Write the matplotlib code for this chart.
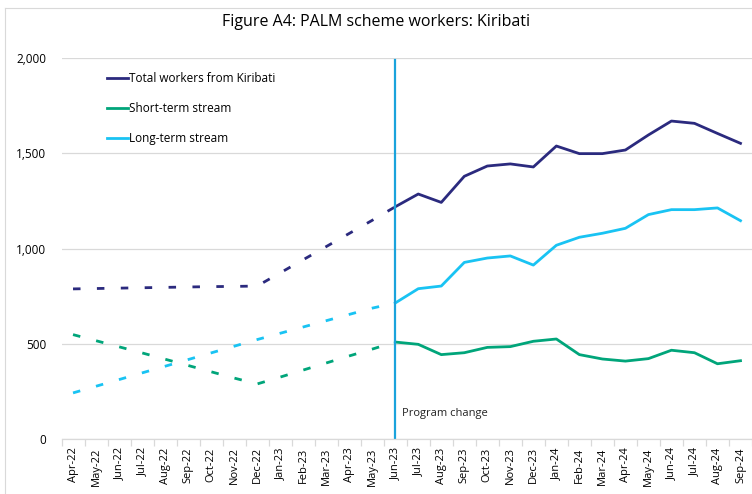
import matplotlib
matplotlib.use("Agg")
import matplotlib.pyplot as plt
from matplotlib.lines import Line2D

plt.rcParams['font.family'] = ['Open Sans', 'DejaVu Sans']

months = ["Apr-22", "May-22", "Jun-22", "Jul-22", "Aug-22", "Sep-22", "Oct-22", "Nov-22",
          "Dec-22", "Jan-23", "Feb-23", "Mar-23", "Apr-23", "May-23", "Jun-23", "Jul-23",
          "Aug-23", "Sep-23", "Oct-23", "Nov-23", "Dec-23", "Jan-24", "Feb-24", "Mar-24",
          "Apr-24", "May-24", "Jun-24", "Jul-24", "Aug-24", "Sep-24"]

# Apr-22 .. Jun-23 (dashed, before program change)
total_pre = [788, 790, 792, 794, 796, 798, 800, 801, 803, 872, 941, 1010, 1079, 1148, 1219]
short_pre = [548, 516, 484, 452, 419, 386, 353, 320, 289, 325, 362, 399, 436, 472, 509]
long_pre = [242, 277, 312, 347, 382, 417, 452, 487, 522, 555, 588, 621, 654, 687, 714]

# Jun-23 .. Sep-24 (solid)
total_post = [1219, 1286, 1242, 1379, 1433, 1444, 1428, 1538, 1498, 1498, 1517, 1596,
              1669, 1657, 1604, 1552]
short_post = [509, 497, 443, 453, 481, 485, 513, 525, 443, 420, 409, 422, 466, 453, 395, 411]
long_post = [714, 789, 803, 927, 950, 961, 913, 1017, 1059, 1080, 1106, 1178, 1204, 1204,
             1213, 1146]

c_total = "#2B2A7E"
c_short = "#00A57A"
c_long = "#19C3F3"
c_vline = "#1AA3DC"

fig = plt.figure(figsize=(7.52, 4.94), dpi=100)
ax = fig.add_axes([0.0818, 0.1113, 0.9182, 0.7713])

x_pre = list(range(len(total_pre)))
x_post = list(range(len(total_pre) - 1, len(months)))
dash = (2.7, 5.9)

for pre, post, c in [(total_pre, total_post, c_total),
                     (short_pre, short_post, c_short),
                     (long_pre, long_post, c_long)]:
    ax.plot(x_pre, pre, color=c, lw=2.0, dashes=dash)
    ax.plot(x_post, post, color=c, lw=2.0)

ax.axvline(14, ymin=0, ymax=0.995, color=c_vline, lw=1.6)
ax.text(14.3, 136, "Program change", fontsize=8, color="#222222", va="center")

ax.set_xlim(-0.5, len(months) - 0.5)
ax.set_ylim(0, 2000)
ax.set_yticks([0, 500, 1000, 1500, 2000])
ax.set_yticklabels(["0", "500", "1,000", "1,500", "2,000"])
ax.yaxis.grid(True, color="#D9D9D9", lw=0.9)
ax.set_axisbelow(True)

ax.set_xticks(range(len(months)))
ax.set_xticklabels(months, rotation=90, fontsize=8)
ax.set_xticks([i - 0.5 for i in range(len(months) + 1)], minor=True)
ax.tick_params(axis='x', which='major', length=0, pad=6)
ax.tick_params(axis='x', which='minor', length=5, color="#D9D9D9", width=0.9)
ax.tick_params(axis='y', length=0, labelsize=8.5, pad=11)

for s in ["top", "right", "left"]:
    ax.spines[s].set_visible(False)
ax.spines["bottom"].set_color("#D9D9D9")
ax.spines["bottom"].set_linewidth(0.9)

handles = [Line2D([], [], color=c_total, lw=2.0),
           Line2D([], [], color=c_short, lw=2.0),
           Line2D([], [], color=c_long, lw=2.0)]
ax.legend(handles, ["Total workers from Kiribati", "Short-term stream", "Long-term stream"],
          loc="upper left", bbox_to_anchor=(0.05, 0.99), frameon=False, fontsize=8.5,
          handlelength=1.8, handletextpad=0.1, labelspacing=1.42)

fig.text(0.5, 0.955, "Figure A4: PALM scheme workers: Kiribati", ha="center", va="center",
         fontsize=11.5)

fig.add_artist(Line2D([5 / 752, 5 / 752], [0, 1 - 8 / 494], color="#D9D9D9", lw=0.8,
                      transform=fig.transFigure))
fig.add_artist(Line2D([5 / 752, 1], [1 - 8 / 494, 1 - 8 / 494], color="#D9D9D9", lw=0.8,
                      transform=fig.transFigure))

fig.savefig("out.png", dpi=100)
